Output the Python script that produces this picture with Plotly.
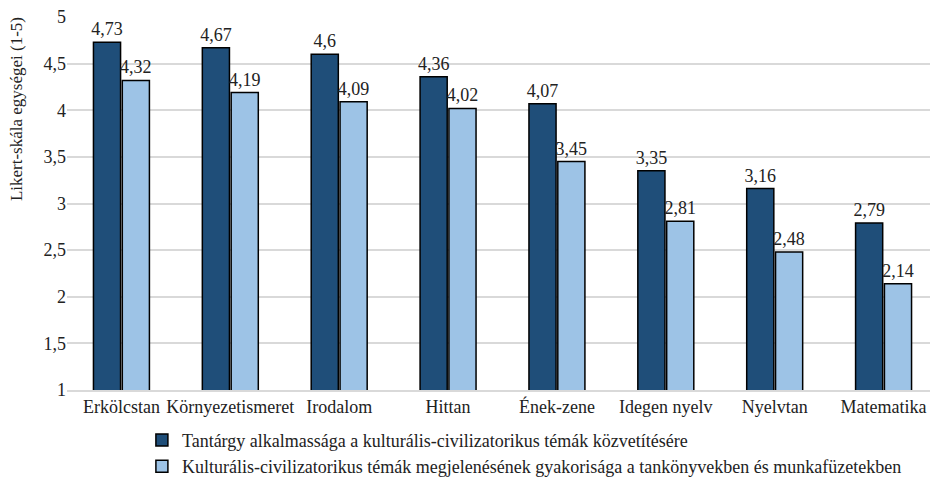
import plotly.graph_objects as go

categories = ["Erkölcstan", "Környezetismeret", "Irodalom", "Hittan", "Ének-zene", "Idegen nyelv", "Nyelvtan", "Matematika"]
series1_name = "Tantárgy alkalmassága a kulturális-civilizatorikus témák közvetítésére"
series1 = [4.73, 4.67, 4.6, 4.36, 4.07, 3.35, 3.16, 2.79]
series2_name = "Kulturális-civilizatorikus témák megjelenésének gyakorisága a tankönyvekben és munkafüzetekben"
series2 = [4.32, 4.19, 4.09, 4.02, 3.45, 2.81, 2.48, 2.14]
y_ticks = [1, 1.5, 2, 2.5, 3, 3.5, 4, 4.5, 5]
y_title = "Likert-skála egységei (1-5)"

def fmt(v):
    s = ("%g" % v)
    return s.replace(".", ",")

FONT = "Liberation Serif"
FS = 18

fig = go.Figure()
fig.add_trace(go.Bar(x=categories, y=series1, name=series1_name,
                     marker=dict(color="#1F4E79", line=dict(color="black", width=1.5)),
                     text=[fmt(v) for v in series1], textposition="outside",
                     constraintext="none",
                     textfont=dict(family=FONT, size=FS, color="#222"), cliponaxis=False))
fig.add_trace(go.Bar(x=categories, y=series2, name=series2_name,
                     marker=dict(color="#9DC3E6", line=dict(color="black", width=1.5)),
                     text=[fmt(v) for v in series2], textposition="outside",
                     constraintext="none",
                     textfont=dict(family=FONT, size=FS, color="#222"), cliponaxis=False))

fig.add_annotation(text=y_title, xref="paper", yref="paper", x=-0.0586, y=0.753,
                   xanchor="center", yanchor="middle", textangle=-90, showarrow=False,
                   font=dict(family=FONT, size=17, color="#222"))

fig.update_layout(
    width=930, height=474,
    margin=dict(l=59, r=0, t=9, b=92, autoexpand=False),
    paper_bgcolor="white", plot_bgcolor="white",
    font=dict(family=FONT, size=FS, color="#222"),
    barmode="group", bargap=0.47, bargroupgap=0.06,
    showlegend=True,
    legend=dict(orientation="v", x=0.086, xanchor="left", y=-0.085, yanchor="top",
                font=dict(family=FONT, size=FS), tracegroupgap=0, itemwidth=30),
    yaxis=dict(range=[1, 5], tickvals=y_ticks, ticktext=[fmt(v) for v in y_ticks],
               showgrid=True, gridcolor="#D9D9D9", gridwidth=1.5, zeroline=False,
               automargin=False, ticklabeloverflow="allow",
               ticks="", ticklen=0, tickfont=dict(family=FONT, size=FS)),
    xaxis=dict(showline=True, linecolor="#D9D9D9", linewidth=1.5, ticks="",
               automargin=False, ticklabeloverflow="allow", tickfont=dict(family=FONT, size=FS)),
)

fig.write_html("out.html")
